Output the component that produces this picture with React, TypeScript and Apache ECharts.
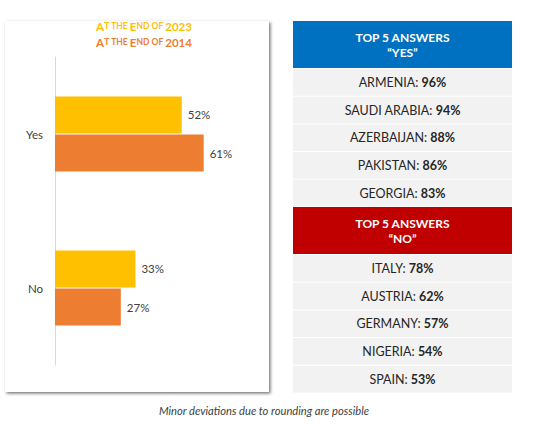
import React, { useEffect, useRef } from 'react';
import * as echarts from 'echarts';

// data
const categories = ['Yes', 'No'];
const seriesNames = ['At the End of 2023', 'At the End of 2014'];
const values2023 = [52, 33];
const values2014 = [61, 27];

const yesCountries = ['ARMENIA', 'SAUDI ARABIA', 'AZERBAIJAN', 'PAKISTAN', 'GEORGIA'];
const yesValues = [96, 94, 88, 86, 83];
const noCountries = ['ITALY', 'AUSTRIA', 'GERMANY', 'NIGERIA', 'SPAIN'];
const noValues = [78, 62, 57, 54, 53];

const yesHeader = 'TOP 5 ANSWERS\n\u201CYES\u201D';
const noHeader = 'TOP 5 ANSWERS\n\u201CNO\u201D';
const footnote = 'Minor deviations due to rounding are possible';

const FONT = 'Lato, "Open Sans", sans-serif';

// small caps title: "At the End of 2023" -> rich text
function smallCaps(s: string) {
  const words = s.split(' ');
  return words
    .map((w, idx) => {
      const sp = idx < words.length - 1 ? ' ' : '';
      if (/^\d+$/.test(w)) return `{b|${w}${sp}}`;
      const first = w[0];
      const rest = w.slice(1).toUpperCase();
      if (first === first.toUpperCase()) {
        return rest ? `{b|${first}}{s|${rest}${sp}}` : `{b|${first}${sp}}`;
      }
      return `{s|${w.toUpperCase()}${sp}}`;
    })
    .join('');
}

export default function App() {
  const chartRef = useRef<HTMLDivElement>(null);

  useEffect(() => {
    if (!chartRef.current) return;
    document.body.style.margin = '0';
    const myChart = echarts.init(chartRef.current, null, { renderer: 'svg' });

    const tableX = 293;
    const tableW = 219;
    const headerH = 47;
    const rowStep = 27.7;

    const graphics: any[] = [];

    // left panel with shadow
    graphics.push({
      type: 'rect',
      z: -10,
      shape: { x: 5, y: 21, width: 264, height: 371 },
      style: {
        fill: '#fff',
        shadowBlur: 3,
        shadowOffsetX: 1.5,
        shadowOffsetY: 1.5,
        shadowColor: 'rgba(0,0,0,0.55)',
      },
    });

    // legend-like title lines
    const titleColors = ['#FFC000', '#ED7D31'];
    seriesNames.forEach((name, i) => {
      graphics.push({
        type: 'text',
        style: {
          x: 144,
          y: 26 + i * 16,
          text: smallCaps(name),
          align: 'center',
          verticalAlign: 'middle',
          rich: {
            b: { fontSize: 11.5, fontWeight: 'bold', fill: titleColors[i], fontFamily: FONT },
            s: { fontSize: 8.5, fontWeight: 'bold', fill: titleColors[i], fontFamily: FONT },
          },
        },
      });
    });

    const addBlock = (top: number, header: string, color: string, names: string[], vals: number[]) => {
      graphics.push({
        type: 'rect',
        shape: { x: tableX, y: top, width: tableW, height: headerH },
        style: { fill: color },
      });
      graphics.push({
        type: 'text',
        style: {
          x: tableX + tableW / 2,
          y: top + headerH / 2,
          text: header,
          align: 'center',
          verticalAlign: 'middle',
          fill: '#fff',
          fontSize: 12,
          fontWeight: 'bold',
          fontFamily: FONT,
          lineHeight: 15,
        },
      });
      names.forEach((n, i) => {
        const y = top + headerH + 1 + i * rowStep;
        graphics.push({
          type: 'rect',
          shape: { x: tableX, y, width: tableW, height: rowStep - 1 },
          style: { fill: '#F2F2F2' },
        });
        graphics.push({
          type: 'text',
          style: {
            x: tableX + tableW / 2,
            y: y + (rowStep - 1) / 2,
            text: `{n|${n}: }{v|${vals[i]}%}`,
            align: 'center',
            verticalAlign: 'middle',
            rich: {
              n: { fontSize: 12.5, fill: '#262626', fontFamily: FONT },
              v: { fontSize: 12.5, fill: '#262626', fontWeight: 'bold', fontFamily: FONT },
            },
          },
        });
      });
    };

    addBlock(21, yesHeader, '#0070C0', yesCountries, yesValues);
    addBlock(21 + headerH + 5 * rowStep + 0.5, noHeader, '#C00000', noCountries, noValues);

    graphics.push({
      type: 'text',
      style: {
        x: 264,
        y: 410,
        text: footnote,
        align: 'center',
        verticalAlign: 'middle',
        fill: '#404040',
        fontSize: 11.2,
        fontStyle: 'italic',
        fontFamily: FONT,
      },
    });

    const labelStyle = {
      show: true,
      position: 'right',
      distance: 6,
      formatter: '{c}%',
      color: '#404040',
      fontSize: 11.5,
      fontFamily: FONT,
    };

    const option = {
      animation: false,
      backgroundColor: '#fff',
      grid: { left: 55, top: 57, width: 195, height: 308 },
      xAxis: {
        type: 'value',
        min: 0,
        max: 80,
        show: false,
      },
      yAxis: {
        type: 'category',
        data: categories,
        inverse: true,
        axisLine: { lineStyle: { color: '#D9D9D9', width: 1 } },
        axisTick: { show: false },
        axisLabel: { color: '#404040', fontSize: 11.5, margin: 12, fontFamily: FONT },
      },
      series: [
        {
          name: seriesNames[0],
          type: 'bar',
          data: values2023,
          barWidth: 37,
          barGap: '3%',
          itemStyle: { color: '#FFC000' },
          label: labelStyle,
        },
        {
          name: seriesNames[1],
          type: 'bar',
          data: values2014,
          barWidth: 37,
          barGap: '3%',
          itemStyle: { color: '#ED7D31' },
          label: labelStyle,
        },
      ],
      graphic: graphics,
    };

    myChart.setOption(option);

    return () => {
      myChart.dispose();
    };
  }, []);

  return <div ref={chartRef} style={{ width: '537px', height: '429px' }} />;
}
